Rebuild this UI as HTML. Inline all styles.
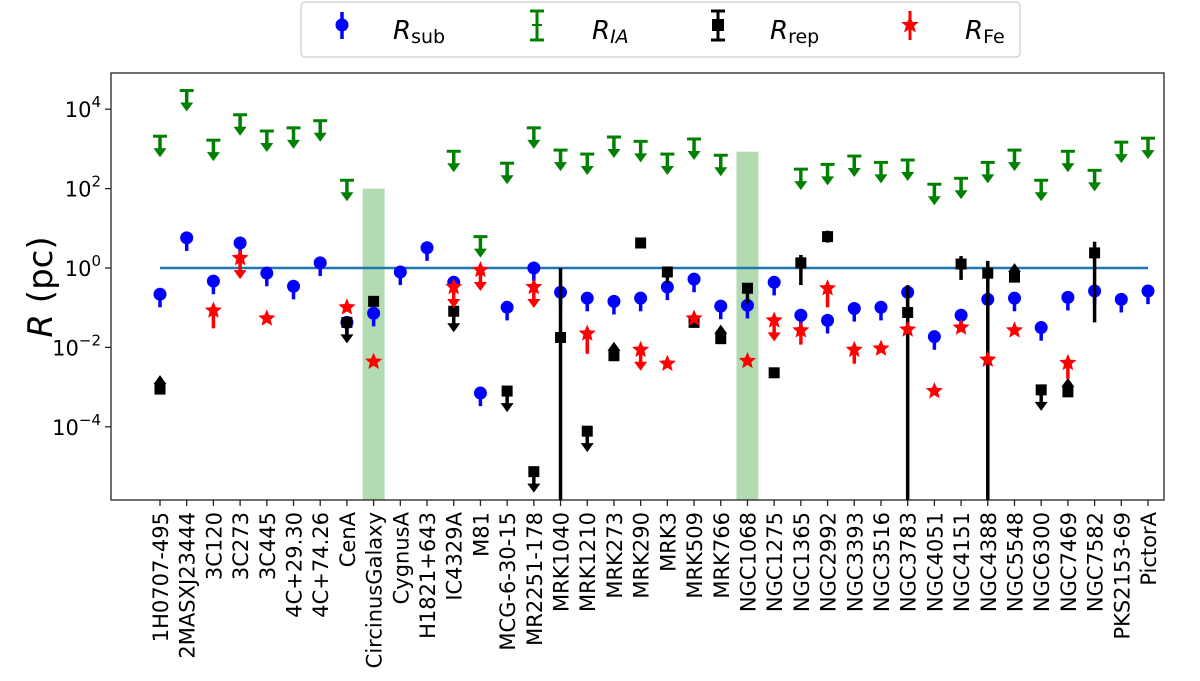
<!DOCTYPE html>
<html><head><meta charset="utf-8"><style>
html,body{margin:0;padding:0;background:#fff;}
svg{display:block;font-family:"DejaVu Sans","Liberation Sans",sans-serif;}
</style></head><body>
<svg id="chart" width="1200" height="681" viewBox="0 0 1200 681" xmlns="http://www.w3.org/2000/svg">
  <g id="legend">
    <rect x="301" y="2" width="719" height="55" rx="4" fill="#fff" stroke="#ccc" stroke-width="1.2"/>
    <g>
      <line x1="342" y1="12" x2="342" y2="39" stroke="#0000ff" stroke-width="3.5"/>
      <circle cx="342" cy="25" r="6.5" fill="#0000ff"/>
      <text x="393" y="39" font-size="26"><tspan font-style="italic">R</tspan><tspan font-size="19" dy="4">sub</tspan></text>
    </g>
    <g>
      <line x1="537" y1="11" x2="537" y2="40" stroke="#008000" stroke-width="3"/>
      <line x1="530" y1="11" x2="544" y2="11" stroke="#008000" stroke-width="3"/>
      <line x1="530" y1="40" x2="544" y2="40" stroke="#008000" stroke-width="3"/>
      <line x1="532" y1="25" x2="542" y2="25" stroke="#008000" stroke-width="2"/>
      <text x="592" y="39" font-size="26"><tspan font-style="italic">R</tspan><tspan font-size="19" dy="4" font-style="italic">IA</tspan></text>
    </g>
    <g>
      <line x1="718" y1="11" x2="718" y2="40" stroke="#000" stroke-width="3"/>
      <line x1="711" y1="11" x2="725" y2="11" stroke="#000" stroke-width="3"/>
      <line x1="711" y1="40" x2="725" y2="40" stroke="#000" stroke-width="3"/>
      <rect x="712" y="19" width="12" height="12" fill="#000"/>
      <text x="770" y="39" font-size="26"><tspan font-style="italic">R</tspan><tspan font-size="19" dy="4">rep</tspan></text>
    </g>
    <g>
      <line x1="910" y1="11" x2="910" y2="40" stroke="#ff0000" stroke-width="3"/>
      <polygon points="910,16 912.6,22 919,22 914,26 916,32.5 910,28.8 904,32.5 906,26 901,22 907.4,22" fill="#ff0000"/>
      <text x="965" y="39" font-size="26"><tspan font-style="italic">R</tspan><tspan font-size="19" dy="4">Fe</tspan></text>
    </g>
  </g>
  <text transform="translate(52,287) rotate(-90)" text-anchor="middle" font-size="34"><tspan font-style="italic">R</tspan> (pc)</text>
  <g id="bands"></g>
  <g id="axes"></g>
  <g id="marks"></g>
</svg>
<script>
const categories = ["1H0707-495","2MASXJ23444","3C120","3C273","3C445","4C+29.30","4C+74.26","CenA","CircinusGalaxy","CygnusA","H1821+643","IC4329A","M81","MCG-6-30-15","MR2251-178","MRK1040","MRK1210","MRK273","MRK290","MRK3","MRK509","MRK766","NGC1068","NGC1275","NGC1365","NGC2992","NGC3393","NGC3516","NGC3783","NGC4051","NGC4151","NGC4388","NGC5548","NGC6300","NGC7469","NGC7582","PKS2153-69","PictorA"];
// log10 values (pc)
const riaLog = [3.32,4.47,3.22,3.86,3.45,3.53,3.71,2.21,null,null,null,2.94,0.79,2.64,3.53,2.97,2.87,3.30,3.19,2.87,3.25,2.84,null,null,2.49,2.61,2.82,2.66,2.72,2.11,2.26,2.66,2.97,2.21,2.94,2.46,3.17,3.27];
const rsubLog = [-0.66,0.76,-0.33,0.63,-0.13,-0.46,0.13,-1.37,-1.14,-0.10,0.51,-0.36,-3.15,-0.99,0.00,-0.61,-0.76,-0.84,-0.76,-0.48,-0.28,-0.96,-0.94,-0.36,-1.19,-1.32,-1.02,-0.99,-0.61,-1.73,-1.19,-0.79,-0.76,-1.50,-0.74,-0.58,-0.79,-0.58];
const rsubErrDown = 0.33;
const rsubErrUp = 0.1;
const rfeLog = [null,null,-1.07,0.25,-1.27,null,null,-0.99,-2.36,null,null,-0.48,-0.05,null,-0.48,null,-1.65,null,-2.06,-2.41,-1.27,null,-2.34,-1.32,-1.57,-0.51,-2.06,-2.03,-1.55,-3.10,-1.50,-2.31,-1.57,null,-2.39,null,null,null];
const rfeLow = [null,null,-1.52,null,null,null,null,null,null,null,null,null,null,null,null,null,-2.16,null,null,null,null,null,null,null,-1.93,-0.99,-2.41,null,null,null,null,null,null,null,-2.79,null,null,null];
const rfeUpperLimit = [0,0,0,1,0,0,0,0,0,0,0,1,1,0,1,0,0,0,1,0,0,0,0,1,0,0,0,0,0,0,0,0,0,0,0,0,0,0];
const rrepLog = [-3.05,null,null,null,null,null,null,-1.37,-0.84,null,null,-1.09,null,-3.10,-5.13,-1.75,-4.11,-2.21,0.63,-0.10,-1.37,-1.78,-0.51,-2.64,0.13,0.79,null,null,-1.12,null,0.10,-0.13,-0.23,-3.07,-3.12,0.38,null,null];
const rrepHigh = [null,null,null,null,null,null,null,null,null,null,null,null,null,null,null,0.0,null,null,null,null,null,null,null,null,0.33,0.94,null,null,-0.43,null,0.30,0.18,null,null,null,0.66,null,null];
const rrepLow = [null,null,null,null,null,null,null,null,null,null,null,null,null,null,null,-9,null,null,null,-0.38,null,null,-0.89,null,-0.43,0.64,null,null,-9,null,-0.30,-9,null,null,null,-1.37,null,null];
const rrepLimit = [1,0,0,0,0,0,0,-1,0,0,0,-1,0,-1,-1,0,-1,1,0,0,0,1,0,0,0,0,0,0,0,0,0,0,1,-1,1,0,0,0]; // -1 upper limit, 1 lower limit
const bandNames = ["CircinusGalaxy","NGC1068"];
const bandTopLog = [2.0,2.93];
const refLineLog = 0;
const yTickExps = [4,2,0,-2,-4];

const NS = "http://www.w3.org/2000/svg";
const L = 111, R = 1164, T = 73, B = 500;
const y0 = 268, dec = 39.7;
function yScale(lg){ return Math.max(T, Math.min(B, y0 - lg*dec)); }
function xScale(i){ return 160 + i*(1148-160)/(categories.length-1); }
function el(tag, attrs, parent){
  const e = document.createElementNS(NS, tag);
  for (const k in attrs) e.setAttribute(k, attrs[k]);
  parent.appendChild(e); return e;
}
const axes = document.getElementById('axes');
const marks = document.getElementById('marks');
const bands = document.getElementById('bands');

bandNames.forEach((n,k)=>{
  const i = categories.indexOf(n);
  const r = el('rect',{x:xScale(i)-11,y:yScale(bandTopLog[k]),width:22,height:B-yScale(bandTopLog[k]),fill:'#b2dbb2'},bands);
  
  
});

const fr = el('rect',{x:L,y:T,width:R-L,height:B-T,fill:'none',stroke:'#222','stroke-width':1.3},axes);



yTickExps.forEach(e=>{
  const y = yScale(e);
  el('line',{x1:L-6,y1:y,x2:L,y2:y,stroke:'#222','stroke-width':1.3},axes);
  const t = el('text',{x:L-10,y:y+8,'text-anchor':'end','font-size':21},axes);
  
  
  const a = document.createElementNS(NS,'tspan'); a.textContent='10'; t.appendChild(a);
  const b = document.createElementNS(NS,'tspan'); b.setAttribute('dy','-10'); b.setAttribute('font-size','15');
  b.textContent = (e<0 ? '\u2212'+(-e) : String(e)); t.appendChild(b);
});

categories.forEach((c,i)=>{
  const x = xScale(i);
  el('line',{x1:x,y1:B,x2:x,y2:B+6,stroke:'#222','stroke-width':1.3},axes);
  const t = el('text',{transform:`translate(${x+8},${B+12}) rotate(-90)`,'text-anchor':'end','font-size':21},axes);
  
  
  t.textContent = c;
});

const rl = el('line',{x1:xScale(0),y1:yScale(refLineLog),x2:xScale(categories.length-1),y2:yScale(refLineLog),stroke:'#1f77b4','stroke-width':2.5},marks);



function arrow(x,y,dir,color,g,len){
  len = len || 21;
  const ye = y - dir*len;
  el('line',{x1:x,y1:y,x2:x,y2:ye+dir*6,stroke:color,'stroke-width':3.5},g);
  el('polygon',{points:`${x-6.5},${ye+dir*9} ${x+6.5},${ye+dir*9} ${x},${ye}`,fill:color},g);
}
function star(x,y,r,color,g){
  let p=[];
  for(let k=0;k<10;k++){
    const rr = k%2? r*0.45 : r;
    const a = -Math.PI/2 + k*Math.PI/5;
    p.push((x+rr*Math.cos(a)).toFixed(1)+','+(y+rr*Math.sin(a)).toFixed(1));
  }
  return el('polygon',{points:p.join(' '),fill:color},g);
}

riaLog.forEach((v,i)=>{
  if (v===null) return;
  const g = el('g',{},marks);
  
  
  const x = xScale(i), y = yScale(v);
  el('line',{x1:x-7,y1:y,x2:x+7,y2:y,stroke:'#008000','stroke-width':3},g);
  arrow(x,y,-1,'#008000',g);
});

rsubLog.forEach((v,i)=>{
  const g = el('g',{},marks);
  
  
  const x = xScale(i);
  el('line',{x1:x,y1:yScale(v+rsubErrUp),x2:x,y2:yScale(v-rsubErrDown),stroke:'#0000ff','stroke-width':3.5},g);
  el('circle',{cx:x,cy:yScale(v),r:6.5,fill:'#0000ff'},g);
});

rrepLog.forEach((v,i)=>{
  if (v===null) return;
  const g = el('g',{},marks);
  
  
  const x = xScale(i), y = yScale(v);
  if (rrepHigh[i]!==null || rrepLow[i]!==null){
    const hi = rrepHigh[i]!==null ? rrepHigh[i] : v;
    const lo = rrepLow[i]!==null ? rrepLow[i] : v;
    el('line',{x1:x,y1:yScale(hi),x2:x,y2:yScale(lo),stroke:'#000','stroke-width':3.5},g);
  }
  if (rrepLimit[i]===-1) arrow(x,y,-1,'#000',g);
  if (rrepLimit[i]===1) arrow(x,y,1,'#000',g,14);
  el('rect',{x:x-5.5,y:y-5.5,width:11,height:11,fill:'#000'},g);
});

rfeLog.forEach((v,i)=>{
  if (v===null) return;
  const g = el('g',{},marks);
  
  
  const x = xScale(i), y = yScale(v);
  if (rfeLow[i]!==null) el('line',{x1:x,y1:y,x2:x,y2:yScale(rfeLow[i]),stroke:'#ff0000','stroke-width':3.5},g);
  if (rfeUpperLimit[i]) arrow(x,y,-1,'#ff0000',g);
  star(x,y,9,'#ff0000',g);
});
</script>
</body></html>
